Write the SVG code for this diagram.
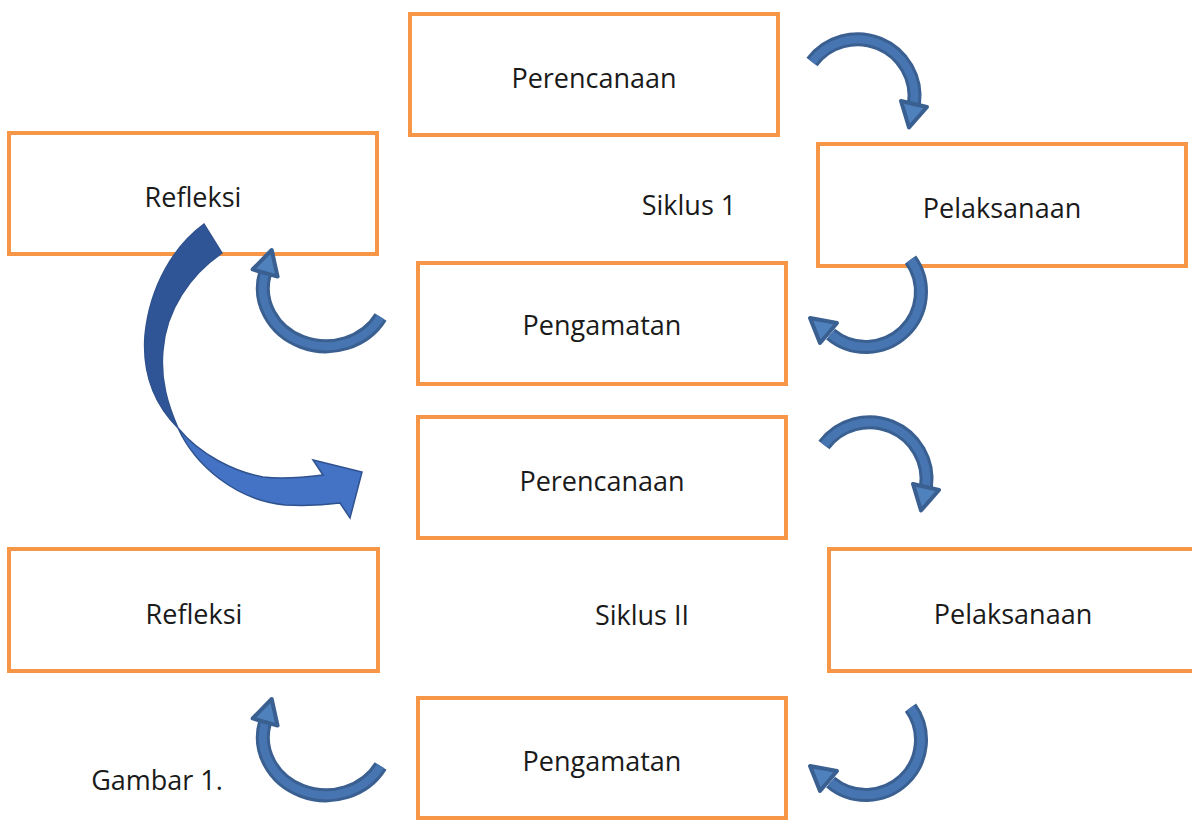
<svg xmlns="http://www.w3.org/2000/svg" width="1192" height="820" viewBox="0 0 1192 820">
<style>
.box{fill:#fff;stroke:#F79646;stroke-width:4}
.t{font-family:"Open Sans","Noto Sans",sans-serif;font-size:27px;fill:#1a1a1a;text-anchor:middle}
.sh{fill:none;stroke:#3A5F91;stroke-width:14}
.si{fill:none;stroke:#4775B1;stroke-width:8}
.hd{fill:#4F81BD;stroke:#3A5F91;stroke-width:4;stroke-linejoin:round}
</style>
<defs>
<g id="arrA">
<path class="sh" d="M812,62 A57,57 0 0 1 914,104"/>
<path class="si" d="M812,62 A57,57 0 0 1 914,104"/>
<polygon class="hd" points="901,101 927,107 909,127.5"/>
</g>
<g id="arrB">
<path class="sh" d="M910.5,259.7 A55,55 0 0 1 830.6,334.1"/>
<path class="si" d="M910.5,259.7 A55,55 0 0 1 830.6,334.1"/>
<polygon class="hd" points="837,323 820,343 810,318"/>
</g>
<g id="arrC">
<path class="sh" d="M380.6,317 A63,58 0 0 1 265.1,273"/>
<path class="si" d="M380.6,317 A63,58 0 0 1 265.1,273"/>
<polygon class="hd" points="277.6,276.6 252.6,269.4 271.7,250"/>
</g>
</defs>
<rect width="1192" height="820" fill="#fff"/>
<g id="perencanaan1"><rect class="box" x="410" y="14" width="368" height="121"/><text class="t" x="594" y="88">Perencanaan</text></g>
<g id="refleksi1"><rect class="box" x="9" y="133" width="368" height="121"/><text class="t" x="193" y="207">Refleksi</text></g>
<g id="siklus1"><text class="t" x="689" y="215">Siklus 1</text></g>
<g id="pelaksanaan1"><rect class="box" x="818" y="144" width="368" height="122"/><text class="t" x="1002" y="218">Pelaksanaan</text></g>
<g id="pengamatan1"><rect class="box" x="418" y="263" width="368" height="121"/><text class="t" x="602" y="335">Pengamatan</text></g>
<g id="perencanaan2"><rect class="box" x="418" y="417" width="368" height="121"/><text class="t" x="602" y="491">Perencanaan</text></g>
<g id="refleksi2"><rect class="box" x="9" y="549" width="369" height="122"/><text class="t" x="194" y="624">Refleksi</text></g>
<g id="siklus2"><text class="t" x="642" y="625">Siklus II</text></g>
<g id="pelaksanaan2"><rect class="box" x="829" y="549" width="380" height="122"/><text class="t" x="1013" y="624">Pelaksanaan</text></g>
<g id="pengamatan2"><rect class="box" x="418" y="698" width="368" height="120"/><text class="t" x="602" y="771">Pengamatan</text></g>
<g id="gambar"><text class="t" x="157" y="790">Gambar 1.</text></g>
<g id="connectors">
<use href="#arrA"/>
<use href="#arrB"/>
<use href="#arrC"/>
<use href="#arrA" transform="translate(12,383)"/>
<use href="#arrB" transform="translate(0,448)"/>
<use href="#arrC" transform="translate(0,449)"/>
<path d="M204,224 C175,245 150,285 145,335 C142,375 155,405 178,428 C168,405 160,380 163,350 C166,310 190,275 222,253 Z" fill="#2F5597" stroke="#2F528F" stroke-width="1.5"/>
<path d="M178,428 C195,465 235,500 285,505 C305,506 325,505 340,503 L350,518 L362,472 L313,460 L323,475 C300,478 280,479 263,477 C235,472 200,455 178,428 Z" fill="#4472C4" stroke="#2F528F" stroke-width="1.5"/>
</g>
</svg>
